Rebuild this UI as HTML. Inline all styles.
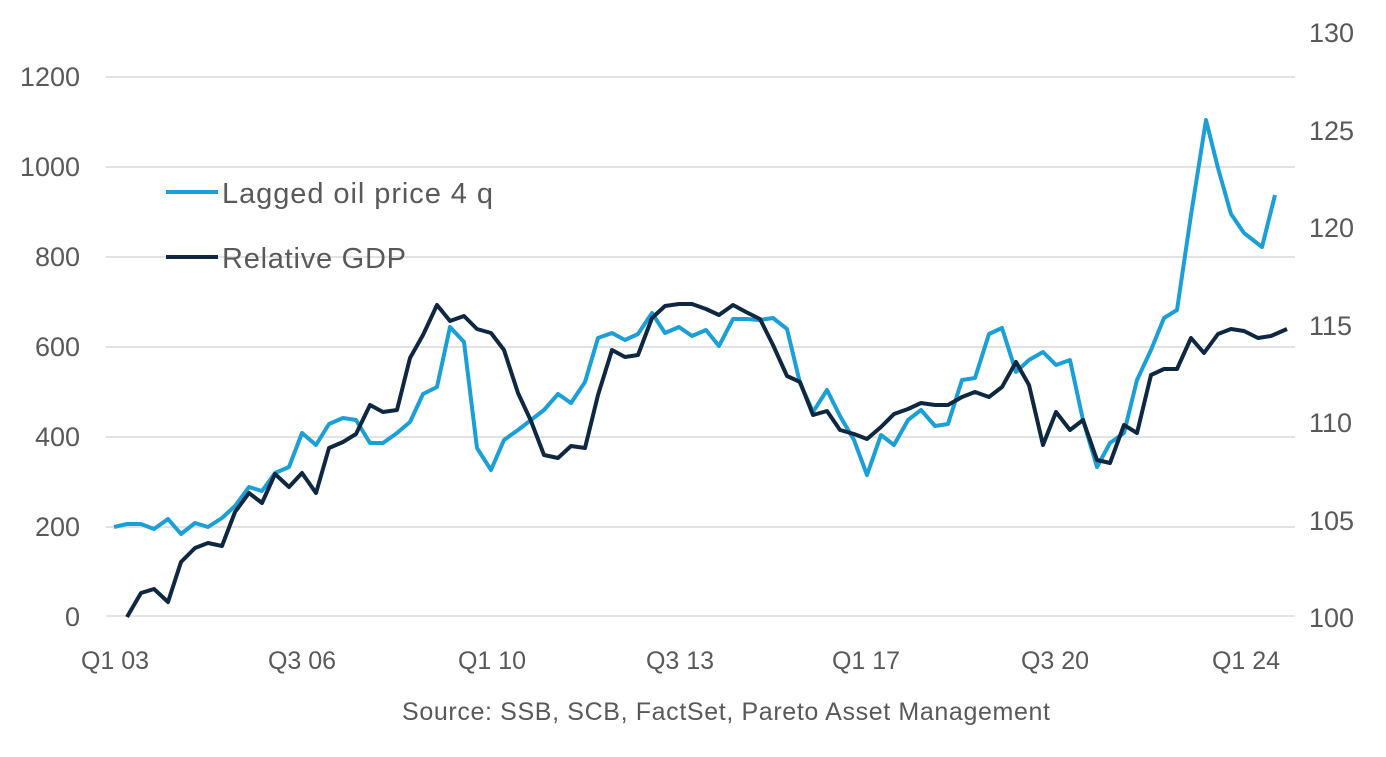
<!DOCTYPE html>
<html><head><style>
body{margin:0;background:#fff;}
svg text{font-family:"Liberation Sans",sans-serif;fill:#595959;}
</style></head><body>
<svg width="1386" height="752" viewBox="0 0 1386 752" xmlns="http://www.w3.org/2000/svg">
<g stroke="#d9d9d9" stroke-width="1.5">
<line x1="106" x2="1295" y1="77" y2="77"/>
<line x1="106" x2="1295" y1="167" y2="167"/>
<line x1="106" x2="1295" y1="257" y2="257"/>
<line x1="106" x2="1295" y1="347" y2="347"/>
<line x1="106" x2="1295" y1="437" y2="437"/>
<line x1="106" x2="1295" y1="527" y2="527"/>
<line x1="106" x2="1295" y1="616" y2="616" stroke="#e4e4e4" stroke-width="2"/>
</g>
<g font-size="27" text-anchor="end">
<text x="80" y="626">0</text>
<text x="80" y="536">200</text>
<text x="80" y="446">400</text>
<text x="80" y="356">600</text>
<text x="80" y="266">800</text>
<text x="80" y="176">1000</text>
<text x="80" y="86">1200</text>
</g>
<g font-size="27" text-anchor="start">
<text x="1309" y="627">100</text>
<text x="1309" y="530">105</text>
<text x="1309" y="432">110</text>
<text x="1309" y="335">115</text>
<text x="1309" y="237">120</text>
<text x="1309" y="140">125</text>
<text x="1309" y="42">130</text>
</g>
<g font-size="25" text-anchor="middle">
<text x="115" y="669">Q1 03</text>
<text x="302" y="669">Q3 06</text>
<text x="492" y="669">Q1 10</text>
<text x="680" y="669">Q3 13</text>
<text x="866" y="669">Q1 17</text>
<text x="1055" y="669">Q3 20</text>
<text x="1246" y="669">Q1 24</text>
<text x="726" y="720" textLength="648">Source: SSB, SCB, FactSet, Pareto Asset Management</text>
</g>
<polyline fill="none" stroke="#1a9fd6" stroke-width="4" stroke-linejoin="round" points="114,527 127,524 141,524 154,529 168,519 181,534 195,523 208,527 222,518 235,506 249,487 262,491 275,473 289,467 302,433 316,445 329,424 343,418 356,420 370,443 383,443 397,433 410,422 423,394 437,387 450,327 464,342 477,448 491,470 504,440 518,430 531,420 544,410 558,394 571,403 585,382 598,338 612,333 625,340 638,334 652,313 665,333 679,327 692,336 706,330 719,346 733,319 746,319 760,320 773,318 787,329 800,383 813,412 827,390 840,416 854,440 867,475 881,435 894,445 908,420 921,410 935,426 948,424 962,380 975,378 989,334 1002,328 1016,372 1029,360 1043,352 1056,365 1070,360 1083,420 1097,467 1110,443 1124,433 1137,380 1151,350 1164,318 1177,310 1191,215 1206,120 1218,168 1231,214 1244,233 1262,247 1275,195"/>
<polyline fill="none" stroke="#0e2841" stroke-width="4" stroke-linejoin="round" points="127,617 141,593 154,589 168,602 181,562 195,548 208,543 222,546 235,512 249,493 262,503 275,474 289,487 302,473 316,493 329,448 343,442 356,434 370,405 383,412 397,410 410,358 423,335 437,305 450,321 464,316 477,329 491,333 504,350 518,393 531,421 544,455 558,458 571,446 585,448 598,395 612,350 625,357 638,355 652,318 665,306 679,304 692,304 706,309 719,315 733,305 746,312 760,319 773,345 787,376 800,382 813,415 827,411 840,430 854,434 867,439 881,427 894,414 908,409 921,403 935,405 948,405 962,397 975,392 989,397 1002,387 1016,362 1029,385 1043,445 1056,412 1070,430 1083,420 1097,460 1110,463 1124,425 1137,433 1151,375 1164,369 1177,369 1191,338 1204,353 1218,334 1231,329 1244,331 1258,338 1271,336 1287,329"/>
<line x1="166" x2="218" y1="192" y2="192" stroke="#1a9fd6" stroke-width="4"/>
<line x1="166" x2="218" y1="257" y2="257" stroke="#0e2841" stroke-width="4"/>
<text x="222" y="203" font-size="29" textLength="271">Lagged oil price 4 q</text>
<text x="222" y="268" font-size="29" textLength="184">Relative GDP</text>
</svg>
</body></html>
